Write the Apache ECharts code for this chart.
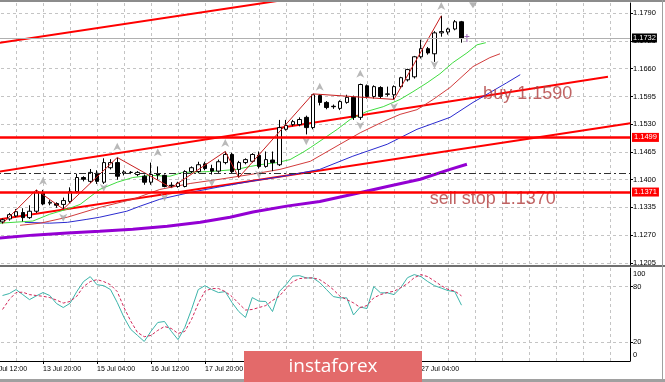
<!DOCTYPE html>
<html><head><meta charset="utf-8">
<script src="https://cdn.jsdelivr.net/npm/echarts@6/dist/echarts.min.js"></script>
<style>html,body{margin:0;padding:0;background:#fff;overflow:hidden}#c{width:665px;height:382px}</style>
</head><body><div id="c"></div>
<script>
// ---- data (EUR/USD H4), candle index 0 = 10 Jul 20:00 ----
const candles = [ // [open, close, low, high]
 [1.1301,1.1306,1.1297,1.1309],[1.1308,1.1318,1.1304,1.1322],[1.1315,1.1325,1.1312,1.1331],[1.1323,1.1311,1.1302,1.1333],
 [1.1311,1.1326,1.1308,1.1340],[1.1326,1.1370,1.1322,1.1376],[1.1370,1.1343,1.1340,1.1376],[1.1345,1.1347,1.1340,1.1352],
 [1.1344,1.1340,1.1334,1.1347],[1.1342,1.1351,1.1331,1.1358],[1.1349,1.1372,1.1345,1.1382],[1.1372,1.1405,1.1368,1.1414],
 [1.1405,1.1401,1.1396,1.1408],[1.1396,1.1417,1.1392,1.1425],[1.1415,1.1396,1.1390,1.1422],[1.1394,1.1440,1.1390,1.1450],
 [1.1428,1.1440,1.1424,1.1448],[1.1440,1.1408,1.1400,1.1452],[1.1415,1.1418,1.1410,1.1422],[1.1417,1.1417,1.1413,1.1420],
 [1.1412,1.1417,1.1408,1.1420],[1.1408,1.1394,1.1388,1.1412],[1.1394,1.1412,1.1388,1.1440],[1.1413,1.1411,1.1400,1.1431],
 [1.1410,1.1384,1.1382,1.1412],[1.1387,1.1385,1.1381,1.1394],[1.1384,1.1392,1.1381,1.1395],[1.1384,1.1419,1.1382,1.1422],
 [1.1419,1.1428,1.1415,1.1431],[1.1419,1.1435,1.1415,1.1442],[1.1437,1.1426,1.1422,1.1442],[1.1426,1.1420,1.1412,1.1435],
 [1.1420,1.1442,1.1416,1.1447],[1.1440,1.1459,1.1436,1.1466],[1.1459,1.1419,1.1415,1.1463],[1.1424,1.1440,1.1405,1.1444],
 [1.1440,1.1447,1.1436,1.1450],[1.1443,1.1459,1.1440,1.1462],[1.1457,1.1431,1.1426,1.1466],[1.1431,1.1447,1.1428,1.1466],
 [1.1446,1.1440,1.1420,1.1466],[1.1435,1.1522,1.1432,1.1540],[1.1518,1.1527,1.1515,1.1540],[1.1529,1.1536,1.1525,1.1540],
 [1.1529,1.1541,1.1525,1.1546],[1.1546,1.1522,1.1506,1.1550],[1.1522,1.1599,1.1518,1.1601],[1.1597,1.1581,1.1574,1.1600],
 [1.1581,1.1569,1.1565,1.1584],[1.1572,1.1571,1.1566,1.1576],[1.1567,1.1583,1.1563,1.1586],[1.1581,1.1593,1.1578,1.1599],
 [1.1593,1.1546,1.1540,1.1597],[1.1546,1.1623,1.1540,1.1625],[1.1620,1.1595,1.1590,1.1623],[1.1595,1.1618,1.1590,1.1621],
 [1.1616,1.1595,1.1590,1.1619],[1.1600,1.1601,1.1595,1.1618],[1.1599,1.1618,1.1588,1.1621],[1.1618,1.1639,1.1614,1.1641],
 [1.1634,1.1658,1.1630,1.1660],[1.1641,1.1688,1.1637,1.1690],[1.1688,1.1707,1.1684,1.1728],[1.1707,1.1697,1.1693,1.1711],
 [1.1695,1.1744,1.1676,1.1748],[1.1744,1.1747,1.1735,1.1784],[1.1746,1.1753,1.1740,1.1756],[1.1753,1.1770,1.1750,1.1774],
 [1.1770,1.1732,1.1721,1.1772]
];
const lipsGreen = [[-0.4,1.1298],[4.5,1.1303],[7,1.1319],[9.6,1.1331],[11.5,1.1342],[14.4,1.1377],[17,1.1394],[19.3,1.1405],[21.9,1.1410],[24.8,1.1408],[26.7,1.1417],[30.7,1.1419],[34.7,1.1424],[36.7,1.1431],[38.6,1.1436],[40.7,1.1440],[42.6,1.1447],[44.5,1.1464],[45.6,1.1475],[49.6,1.1518],[51.5,1.1541],[54,1.1560],[56.4,1.1571],[58.9,1.1588],[60.8,1.1606],[62.9,1.1627],[64.8,1.1648],[66.7,1.1674],[68.8,1.1697],[70.3,1.1716],[71.6,1.1721]];
const teethRed = [[2.6,1.1293],[5.6,1.1298],[9.6,1.1312],[14.4,1.1335],[19.3,1.1354],[23.3,1.1377],[27.8,1.1391],[32.2,1.1401],[36.7,1.1412],[41.1,1.1424],[45.6,1.1443],[50,1.1483],[53,1.1510],[56.4,1.1536],[58.9,1.1553],[61.4,1.1564],[63.8,1.1588],[66.3,1.1616],[69.7,1.1665],[72.2,1.1686],[73.7,1.1695]];
const jawBlue = [[3.3,1.1300],[7,1.1298],[9.6,1.1300],[12.5,1.1307],[14.4,1.1312],[18.4,1.1326],[20.4,1.1338],[23.3,1.1354],[27.8,1.1370],[31.8,1.1382],[36.7,1.1396],[41.6,1.1408],[47,1.1424],[51.9,1.1455],[57,1.1483],[61.4,1.1518],[66.3,1.1546],[69.7,1.1581],[72.2,1.1604],[74.7,1.1627],[76.7,1.1646]];
const slowPurple = [[-0.4,1.1263],[4.5,1.1270],[9.6,1.1275],[14.4,1.1279],[19.3,1.1284],[24.4,1.1291],[29.3,1.1300],[33.7,1.1312],[37.1,1.1324],[42.1,1.1338],[47,1.1349],[51.9,1.1366],[57,1.1384],[61.9,1.1401],[66.3,1.1424],[68.8,1.1436]];
const zigzag = [[0,1.1297],[5,1.1376],[9,1.1331],[17,1.1452],[25,1.1381],[33,1.1466],[35,1.1405],[46,1.1601],[58,1.1588],[65,1.1784]];
const fractalUp = [[6,1.1397],[17,1.1477],[23,1.1464],[33,1.1486],[47,1.1618],[53,1.1648],[65,1.1807]];
const fractalDown = [[9,1.1311],[15,1.1381],[24,1.1358],[31,1.1393],[38,1.1412],[45,1.1490],[53,1.1527],[58,1.1571],[64,1.1669]];
const orderMark = [[68.8,1.1732]];
const shiftMark = [[69.7,1.1809]];
const stochK = [70.4,72.5,76.8,71.4,66,70,73.6,70.4,61.8,57.5, 62,74.6,85.4,90.7,82,81,76.8,62.9,46.8,34, 27.5,21,32,41.4,42.5,32,23,36,55.4,76.8, 81,76.8,73.6,74.6,62.9,53.2,46.8,68.2,64.3,64, 53.2,74.6,82,91.2,91.8,89.3,89.3,84.3,76.8,69.3, 67.9,67.9,49.5,58,56.4,80,73.3,73.3,71.4,78.9, 89.6,92.9,90.7,85.4,81,78.4,75.7,74.6,60];
const stochD = [55.4,66,73.6,74,71.4,70.4,69.6,68.2,65.5,62.3, 64,69.6,80,85.4,87.5,85.4,82,74.6,57.5,42.8, 30.7,26.1,27.5,32.9,37.1,35,29.6,31.8,44.6,61.8, 75.2,77.9,77.9,74.6,69.3,61.8,54.8,55.4,57.5,59.6, 65,69.6,77.9,85.4,88.6,89.3,89.3,87.5,82.7,76.8, 69.6,66,62.5,57.5,59.6,67.9,71.4,73.6,75,78.9, 83.2,89.6,92.9,90.7,86,81,77,75.2,70];
const channelTop = [[-0.4,1.1721],[45,1.1829]];
const channelMid = [[-0.4,1.1419],[89.7,1.1641]];
const channelLow = [[-0.4,1.1307],[93,1.1532]];
const levelHigh = 1.1499, levelLow = 1.1371, dashLevel = 1.1416, lastPrice = 1.1732;
const notes = [{text:'buy 1.1590', at:[71.2,1.1601]},{text:'sell stop 1.1370', at:[63.3,1.1354]}];
const priceTicks = [1.1205,1.1270,1.1335,1.1400,1.1465,1.1530,1.1595,1.1660,1.1725,1.1790];
const gridIdx = [-2,2,6,10,14,18,22,26,30,34,38,42,46,50,54,58,62,66,70,74,78,82,86,90];
const timeIdx = [-2,6,14,22,30,38,46,54,62];
const timeLabels = ['10 Jul 12:00','13 Jul 20:00','15 Jul 04:00','16 Jul 12:00','17 Jul 20:00','21 Jul 04:00','22 Jul 12:00','23 Jul 20:00','27 Jul 04:00'];
const stochTicks = [0,20,80,100];
const stochGrid = [20,80];

// ---- chart ----
const X_MIN = -2, X_MAX = 92.96;
const gridLine = {show:true, lineStyle:{color:'#c4c4c4', type:[3,3], width:1}};
const chart = echarts.init(document.getElementById('c'), null, {renderer:'canvas'});
const arrowPath = 'path://M5,0 L10,9 L5,6.5 L0,9 Z';
const crossPath = 'path://M2,0 L3,0 L3,2 L5,2 L5,3 L3,3 L3,8 L2,8 L2,3 L0,3 L0,2 L2,2 Z';
const boxLabel = (txt,bg)=>({show:true,position:'end',distance:2,formatter:txt,color:'#fff',backgroundColor:bg,padding:[1,2,0,2],fontSize:7.5,fontFamily:'Liberation Sans'});
const option = {
  animation:false,
  backgroundColor:'#ffffff',
  grid:[{left:-11,right:35,top:3,height:262,outerBoundsMode:'none',containLabel:false},
        {left:-11,right:35,top:268,height:93,outerBoundsMode:'none',containLabel:false}],
  xAxis:[
    {gridIndex:0,type:'value',min:X_MIN,max:X_MAX,axisLine:{show:false,onZero:false},axisTick:{show:false,customValues:gridIdx},axisLabel:{show:false},splitLine:gridLine},
    {gridIndex:1,type:'value',min:X_MIN,max:X_MAX,axisLine:{show:false,onZero:false},axisTick:{show:false,customValues:gridIdx},axisLabel:{show:false},splitLine:gridLine},
    {gridIndex:1,type:'value',position:'bottom',min:X_MIN,max:X_MAX,axisLine:{show:true,onZero:false,lineStyle:{color:'#000',width:1}},
     axisTick:{show:true,customValues:timeIdx,length:3,lineStyle:{color:'#000'}},
     axisLabel:{customValues:timeIdx,formatter:v=>timeLabels[timeIdx.indexOf(Math.round(v))]||'',align:'left',fontSize:7,fontFamily:'Liberation Sans',color:'#000',margin:5},
     splitLine:{show:false}}
  ],
  yAxis:[
    {gridIndex:0,type:'value',position:'right',min:1.1200,max:1.1814,
     axisLine:{show:true,onZero:false,lineStyle:{color:'#000'}},axisTick:{show:true,customValues:priceTicks,length:3,lineStyle:{color:'#000'}},
     axisLabel:{customValues:priceTicks,formatter:v=>v.toFixed(4),fontSize:7.5,fontFamily:'Liberation Sans',color:'#000',margin:3},
     splitLine:gridLine},
    {gridIndex:1,type:'value',position:'right',min:0,max:100,
     axisLine:{show:true,onZero:false,lineStyle:{color:'#000'}},axisTick:{show:true,customValues:stochGrid,length:3,lineStyle:{color:'#000'}},
     axisLabel:{customValues:stochTicks,fontSize:7.5,fontFamily:'Liberation Sans',color:'#000',margin:3,
       formatter:v=> v===100?'{d|100}':(v===0?'{u|0}':String(v)),
       rich:{d:{fontSize:7.5,fontFamily:'Liberation Sans',padding:[12,0,0,0]},u:{fontSize:7.5,fontFamily:'Liberation Sans',padding:[0,0,12,0]}}},
     splitLine:gridLine}
  ],
  series:[
    {type:'line',name:'purple',data:slowPurple,xAxisIndex:0,yAxisIndex:0,showSymbol:false,lineStyle:{color:'#9400d3',width:3},z:3},
    {type:'line',name:'channelTop',data:channelTop,xAxisIndex:0,yAxisIndex:0,showSymbol:false,lineStyle:{color:'#ff0000',width:2},z:4},
    {type:'line',name:'channelMid',data:channelMid,xAxisIndex:0,yAxisIndex:0,showSymbol:false,lineStyle:{color:'#ff0000',width:2},z:4},
    {type:'line',name:'channelLow',data:channelLow,xAxisIndex:0,yAxisIndex:0,showSymbol:false,lineStyle:{color:'#ff0000',width:2},z:4,
     markLine:{silent:true,symbol:'none',animation:false,precision:4,z:10,
       data:[
         {yAxis:lastPrice,lineStyle:{color:'#b0b0b0',width:1,type:'solid'},label:Object.assign(boxLabel(lastPrice.toFixed(4),'#000'),{padding:[1,1,0,1]})},
         {yAxis:dashLevel,lineStyle:{color:'#303030',width:1,type:[7,3,2,3]},label:{show:false}},
         {yAxis:levelHigh,lineStyle:{color:'#ff0000',width:2.5,type:'solid'},label:boxLabel(levelHigh.toFixed(4),'#ff0000')},
         {yAxis:levelLow,lineStyle:{color:'#ff0000',width:2.5,type:'solid'},label:boxLabel(levelLow.toFixed(4),'#ff0000')}
       ]}},
    {type:'line',name:'jaw',data:jawBlue,xAxisIndex:0,yAxisIndex:0,showSymbol:false,lineStyle:{color:'#2b2bd0',width:1},z:5},
    {type:'line',name:'teeth',data:teethRed,xAxisIndex:0,yAxisIndex:0,showSymbol:false,lineStyle:{color:'#d23c3c',width:1},z:5},
    {type:'line',name:'lips',data:lipsGreen,xAxisIndex:0,yAxisIndex:0,showSymbol:false,lineStyle:{color:'#40dc40',width:1},z:5},
    {type:'candlestick',name:'price',xAxisIndex:0,yAxisIndex:0,data:candles.map((c,i)=>[i,c[0],c[1],c[2],c[3]]),barWidth:4,
     itemStyle:{color:'#ffffff',color0:'#000000',borderColor:'#000000',borderColor0:'#000000',borderWidth:1},z:6},
    {type:'line',name:'zigzag',data:zigzag,xAxisIndex:0,yAxisIndex:0,showSymbol:false,lineStyle:{color:'#c81e1e',width:1},z:7},
    {type:'scatter',name:'fractalUp',data:fractalUp,xAxisIndex:0,yAxisIndex:0,symbol:arrowPath,symbolSize:[8,8],itemStyle:{color:'#a8a8a8'},z:7},
    {type:'scatter',name:'fractalDown',data:fractalDown,xAxisIndex:0,yAxisIndex:0,symbol:arrowPath,symbolSize:[8,8],symbolRotate:180,itemStyle:{color:'#a8a8a8'},z:7},
    {type:'scatter',name:'order',data:orderMark,xAxisIndex:0,yAxisIndex:0,symbol:crossPath,symbolSize:[5,8],itemStyle:{color:'#8040a0'},z:7},
    {type:'scatter',name:'shift',data:shiftMark,xAxisIndex:0,yAxisIndex:0,symbol:'triangle',symbolSize:[8,6],symbolRotate:180,itemStyle:{color:'#a0a0a0'},z:7},
    {type:'scatter',name:'notes',data:notes.map(n=>({value:n.at,name:n.text})),xAxisIndex:0,yAxisIndex:0,symbolSize:0,z:9,
     label:{show:true,position:'right',distance:0,formatter:p=>p.name,color:'#b03c3c',fontSize:18,fontFamily:'Liberation Sans'}},
    {type:'line',name:'%K',data:stochK.map((v,i)=>[i,v]),xAxisIndex:1,yAxisIndex:1,showSymbol:false,lineStyle:{color:'#3cb4aa',width:1},z:5},
    {type:'line',name:'%D',data:stochD.map((v,i)=>[i,v]),xAxisIndex:1,yAxisIndex:1,showSymbol:false,lineStyle:{color:'#d2285a',width:1,type:[3,2]},z:5}
  ],
  graphic:[
    {type:'rect',shape:{x:0,y:0,width:665,height:2},style:{fill:'#8c8c8c'},silent:true},
    {type:'rect',shape:{x:0,y:265,width:665,height:2},style:{fill:'#707070'},silent:true},
    {type:'rect',shape:{x:662,y:0,width:1,height:382},style:{fill:'#a0a0a0'},silent:true},
    {type:'rect',shape:{x:0,y:379,width:665,height:3},style:{fill:'#a0a0a0'},silent:true},
    {type:'rect',shape:{x:244,y:351,width:178,height:32},style:{fill:'#e36a6a'},z:100,silent:true},
    {type:'text',x:333,y:367,style:{text:'instaforex',fill:'#ffffff',font:'19px "Open Sans"',textAlign:'center',textVerticalAlign:'middle'},z:101,silent:true}
  ]
};
chart.setOption(option);
</script></body></html>
